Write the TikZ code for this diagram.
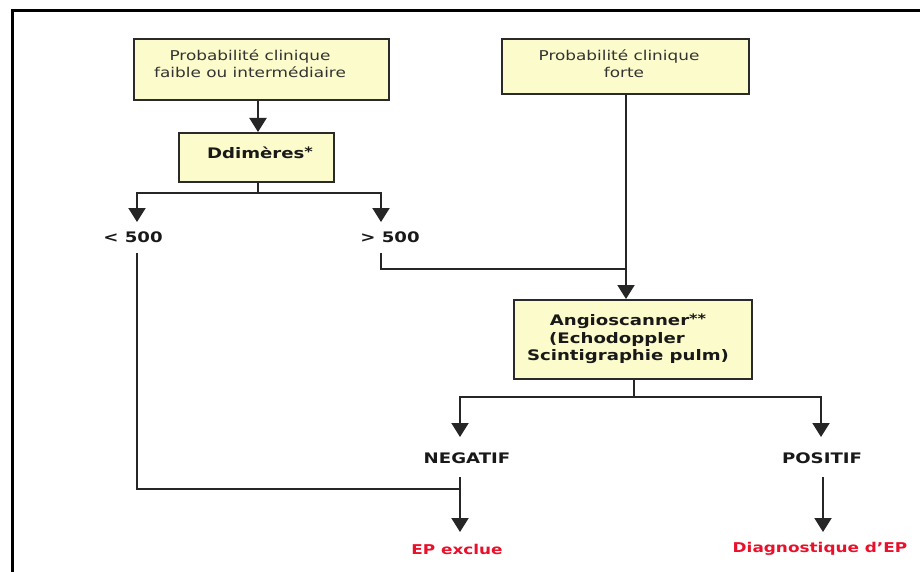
\documentclass[tikz,border=0pt]{standalone}
\usepackage{fontspec}
\setmainfont{DejaVu Sans}[FakeStretch=1.25]
\usetikzlibrary{arrows.meta}
\definecolor{boxfill}{HTML}{FCFBCB}
\definecolor{boxline}{HTML}{2A2A2A}
\definecolor{txtgray}{HTML}{333333}
\definecolor{epred}{HTML}{E8102A}
\newcommand{\myast}{\raisebox{2pt}{\fontsize{13}{13}\selectfont *}}
\begin{document}
\begin{tikzpicture}[x=1pt,y=-1pt,
  box/.style={draw=boxline,line width=2pt,fill=boxfill,inner sep=0pt,anchor=north west},
  plain/.style={font=\fontsize{13.5}{17}\selectfont,text=txtgray,align=center,inner sep=0pt},
  boldtxt/.style={font=\fontsize{14.5}{17.5}\selectfont\bfseries,text=black!90,align=center,inner sep=0pt},
  redtxt/.style={font=\fontsize{13.5}{15}\selectfont\bfseries,text=epred,inner sep=0pt},
  conn/.style={draw=black!85,line width=2pt},
  arr/.style={conn,-{Triangle[width=17pt,length=14pt]}}]
\useasboundingbox (0,0) rectangle (920,572);
\fill[white] (0,0) rectangle (920,572);
% frame
\draw[line width=3pt,line cap=rect] (920,10.5) -- (12.5,10.5) -- (12.5,575);
% boxes
\node[box,minimum width=255pt,minimum height=61pt] (b1) at (133,38) {};
\node[plain] (t1) at (250,63.5) {Probabilité clinique\\faible ou intermédiaire};
\node[box,minimum width=155pt,minimum height=49pt] (b2) at (178,132) {};
\node[boldtxt] (t2) at (260,153) {Ddimères\myast};
\node[box,minimum width=247pt,minimum height=55pt] (b3) at (501,38) {};
\node[plain] (t3) at (619,63.5) {Probabilité clinique\\\hspace*{10pt}forte};
\node[box,minimum width=238pt,minimum height=79pt] (b4) at (513,299) {};
\node[boldtxt] (t4) at (628,339) {Angioscanner\myast\myast\\\hspace*{-22pt}(Echodoppler\\Scintigraphie pulm)};
% labels
\node[boldtxt] (lt) at (133,237) {< 500};
\node[boldtxt] (gt) at (390,237) {> 500};
\node[boldtxt] (neg) at (467,458) {NEGATIF};
\node[boldtxt] (pos) at (822,458) {POSITIF};
\node[redtxt] (exc) at (457,549) {EP exclue};
\node[redtxt] (diag) at (820,549) {Diagnostique d’EP};
% coordinates
\coordinate (j2) at (258,193);
\coordinate (ltin) at (137,222);
\coordinate (gtin) at (381,222);
\coordinate (ltout) at (137,253);
\coordinate (gtout) at (381,253);
\coordinate (jgt) at (626,269);
\coordinate (j4) at (634,397);
\coordinate (negin) at (460,437);
\coordinate (posin) at (821,437);
\coordinate (negout) at (460,477);
\coordinate (posout) at (823,477);
\coordinate (excin) at (460,532);
\coordinate (diagin) at (823,532);
\coordinate (jlt) at (460,489);
% connectors
\draw[arr] (b1.south -| 258,0) -- (b2.north -| 258,0);
\draw[conn] (b2.south -| j2) -- (j2);
\draw[arr] (j2) -| (ltin);
\draw[arr] (j2) -| (gtin);
\draw[conn] (ltout) |- (jlt);
\draw[conn] (gtout) |- (jgt);
\draw[arr] (b3.south -| jgt) -- (b4.north -| jgt);
\draw[conn] (b4.south -| j4) -- (j4);
\draw[arr] (j4) -| (negin);
\draw[arr] (j4) -| (posin);
\draw[arr] (negout) -- (excin);
\draw[arr] (posout) -- (diagin);
\end{tikzpicture}
\end{document}
